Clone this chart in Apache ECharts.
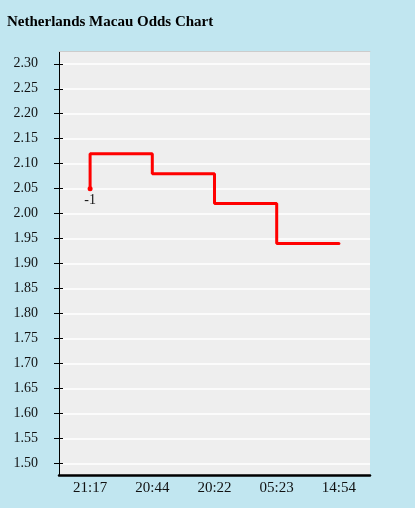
<!DOCTYPE html>
<html>
<head>
<meta charset="utf-8">
<script src="https://cdn.jsdelivr.net/npm/echarts@6/dist/echarts.min.js"></script>
<style>
html,body{margin:0;padding:0;background:#c1e6f0;}
#chart{width:415px;height:508px;}
</style>
</head>
<body>
<div id="chart"></div>
<script>
var titleText = 'Netherlands Macau Odds Chart';
var categories = ['21:17', '20:44', '20:22', '05:23', '14:54'];
// step points: [category index, odds]
var oddsX = [0, 0, 1, 2, 3, 4];
var oddsY = [2.05, 2.12, 2.08, 2.02, 1.94, 1.94];
var yTicks = [1.50, 1.55, 1.60, 1.65, 1.70, 1.75, 1.80, 1.85, 1.90, 1.95, 2.00, 2.05, 2.10, 2.15, 2.20, 2.25, 2.30];
var startLabel = '-1';

var serif = '"Liberation Serif", "Times New Roman", serif';
var pts = oddsX.map(function (x, i) { return [x, oddsY[i]]; });
var lastIdx = pts.length - 1;
var data = pts.map(function (p, i) {
  var item = { value: p };
  if (i === 0) {
    item.symbolSize = 5;
    item.label = { show: true, formatter: startLabel, position: 'bottom', distance: 2,
      color: '#111', fontFamily: serif, fontSize: 14 };
  } else if (i === lastIdx) {
    item.symbolSize = 3;
  } else {
    item.symbol = 'none';
  }
  return item;
});

var chart = echarts.init(document.getElementById('chart'));
var yMin = 1.4766, yMax = 2.3246;
chart.setOption({
  backgroundColor: '#c1e6f0',
  animation: false,
  title: {
    text: titleText, left: 2, top: 10,
    textStyle: { fontFamily: serif, fontWeight: 'bold', fontSize: 15, color: '#000' }
  },
  grid: {
    left: 59, right: 45, top: 51.5, bottom: 33,
    show: true, backgroundColor: '#eeeeee', borderWidth: 0
  },
  xAxis: [{
    type: 'category', data: categories, boundaryGap: true,
    axisLine: { lineStyle: { color: '#000', width: 2.5 } },
    axisTick: { inside: true, length: 6, alignWithLabel: true, lineStyle: { color: '#000', width: 1.5 } },
    axisLabel: { fontFamily: serif, fontSize: 15, color: '#111', margin: 6 },
    splitLine: { show: false }
  }, {
    type: 'category', data: categories, position: 'top',
    axisLine: { show: true, lineStyle: { color: '#cccccc', width: 1 } },
    axisTick: { show: false }, axisLabel: { show: false }, splitLine: { show: false }
  }],
  yAxis: [{
    type: 'value', min: yMin, max: yMax,
    axisLine: { show: true, lineStyle: { color: '#000', width: 1 } },
    axisTick: { show: true, length: 5, customValues: yTicks, lineStyle: { color: '#000' } },
    axisLabel: { customValues: yTicks, fontFamily: serif, fontSize: 14, color: '#111', margin: 21,
      padding: [0, 0, 5, 0],
      formatter: function (v) { return v.toFixed(2); } },
    splitLine: { show: true, lineStyle: { color: '#ffffff', width: 1.5 } }
  }, {
    type: 'value', min: yMin, max: yMax, position: 'left',
    axisLine: { show: false },
    axisTick: { show: true, inside: true, length: 4, customValues: yTicks, lineStyle: { color: '#000' } },
    axisLabel: { show: false },
    splitLine: { show: false }
  }],
  series: [{
    type: 'line', step: 'end', data: data, yAxisIndex: 0, xAxisIndex: 0,
    symbol: 'circle', showSymbol: true,
    lineStyle: { color: '#ff0000', width: 3 },
    itemStyle: { color: '#ff0000' }
  }]
});
</script>
</body>
</html>
